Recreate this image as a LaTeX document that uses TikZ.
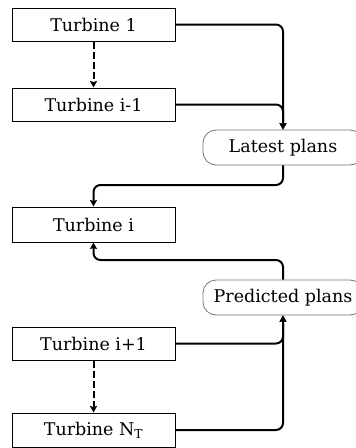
\documentclass[tikz,border=0pt]{standalone}
\usepackage{fontspec}
\setmainfont{DejaVu Serif}
\usetikzlibrary{arrows.meta}
\begin{document}
\begin{tikzpicture}[x=1pt,y=-1pt,
  tbox/.style={draw=black,line width=1pt,minimum width=163pt,minimum height=33pt,inner sep=0pt,font=\fontsize{17.5}{20}\selectfont},
  pbox/.style={draw=black!55,line width=0.8pt,rounded corners=13pt,minimum width=160pt,minimum height=35pt,inner sep=0pt,font=\fontsize{17.5}{20}\selectfont},
  conn/.style={line width=2pt,rounded corners=7pt,-{Stealth[length=6.5pt,width=7pt,inset=1pt]}},
  dconn/.style={line width=2pt,dash pattern=on 7pt off 3pt,-{Stealth[length=6.5pt,width=7pt,inset=1pt]}}]
\useasboundingbox (0,0) rectangle (356,448);
\node[tbox] (t1) at (93.5,24.5) {Turbine 1};
\node[tbox] (tim) at (93.5,104.5) {Turbine i-1};
\node[tbox,minimum height=35pt] (ti) at (93.5,224.5) {Turbine i};
\node[tbox] (tip) at (93.5,343.5) {Turbine i+1};
\node[tbox,minimum height=34pt] (tn) at (93.5,430) {Turbine N\textsubscript{T}};
\node[pbox] (lp) at (283,147.5) {Latest plans};
\node[pbox] (pp) at (283,297.5) {Predicted plans};
\coordinate (m1) at (93.5,185);
\coordinate (m2) at (93.5,260);
\draw[dconn] (t1.south) -- (tim.north);
\draw[dconn] (tip.south) -- (tn.north);
\draw[conn] (t1.east) -| (lp.north);
\draw[conn] (tim.east) -| (lp.north);
\draw[conn] (lp.south) |- (m1) -- (ti.north);
\draw[conn] (pp.north) |- (m2) -- (ti.south);
\draw[conn] (tip.east) -| (pp.south);
\draw[conn] (tn.east) -| (pp.south);
\end{tikzpicture}
\end{document}
